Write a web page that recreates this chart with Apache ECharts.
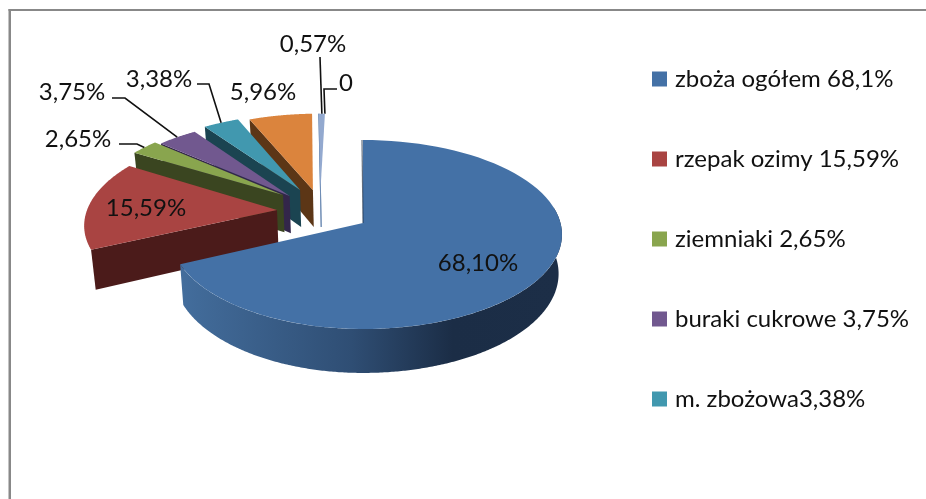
<!DOCTYPE html>
<html>
<head>
<meta charset="utf-8">
<style>html,body{margin:0;padding:0;background:#fff}#chart{width:926px;height:499px}</style>
<script src="https://cdn.jsdelivr.net/npm/echarts@6/dist/echarts.min.js"></script>
</head>
<body>
<div id="chart"></div>
<script>
// Slice data, clockwise from twelve o'clock
const categories = ['zboża ogółem 68,1%', 'rzepak ozimy 15,59%', 'ziemniaki 2,65%', 'buraki cukrowe 3,75%', 'm. zbożowa3,38%', '5,96%', '0,57%', '0'];
const values = [68.1, 15.59, 2.65, 3.75, 3.38, 5.96, 0.57, 0];
const valueLabels = ['68,10%', '15,59%', '2,65%', '3,75%', '3,38%', '5,96%', '0,57%', '0'];
const legendEntries = categories.slice(0, 5);

// Slice colours: top face and dark side face
const topColors = ['#4471a6', '#a94442', '#89a54e', '#71588f', '#4198af', '#db843d', '#93a9cf', '#93a9cf'];
const sideColors = ['#1c2e47', '#4b1b1a', '#3a4520', '#33264a', '#1b4451', '#5c3616', '#6f8db5', '#6f8db5'];

// Pulled-out slice offsets on the pie plane, in pie radii (right, back)
const sliceOffsets = [[0, 0], [-0.443, 0.142], [-0.42, 0.312], [-0.385, 0.3], [-0.333, 0.37], [-0.265, 0.37], [-0.225, 0.37], [-0.225, 0.37]];

// Horizontal squeeze of the near-left quadrant, per slice
const leftSqueeze = [0.968, 0.985, 1, 1, 1, 1, 1, 1];

// Label placement: text centre and optional leader elbow points
const labelLayout = [
  { at: [478, 263] },
  { at: [146, 208] },
  { at: [78, 139], leader: [[119, 144], [137, 144]] },
  { at: [72, 92], leader: [[112, 98], [125, 98]] },
  { at: [159, 79], leader: [[197, 84], [209, 84]] },
  { at: [263, 92] },
  { at: [313, 44], leader: [[320, 57]] },
  { at: [346, 83], leader: [[337, 89], [324, 89]] }
];

// Perspective model of the pie
const view = { cx: 363, cy: 223, rx: 197.5, ry: 93.1, persp: 0.1217, depth: 38.6, baseScale: 0.983 };
const labelFont = '24px Lato';
const total = values.reduce((a, b) => a + b, 0);

function project(u, v, lower, squeeze) {
  const d = 1 + view.persp * v;
  const k = (squeeze && u < 0) ? squeeze : 1;
  let x = view.cx + view.rx * u * k / d;
  let y = view.cy - view.ry * v / d;
  if (lower) {
    x = view.cx + (x - view.cx) * view.baseScale;
    y += view.depth / d;
  }
  return [x, y];
}

function rimPoint(i, deg, lower) {
  const off = sliceOffsets[i];
  const a = deg * Math.PI / 180;
  return project(off[0] + Math.sin(a), off[1] + Math.cos(a), lower, leftSqueeze[i]);
}

function startAngle(i) {
  let s = 0;
  for (let k = 0; k < i; k++) s += values[k];
  return s / total * 360;
}

function renderSlice(i, api) {
  const sweep = api.value(0) / total * 360;
  const start = startAngle(i);
  const end = start + sweep;
  const off = sliceOffsets[i];
  const children = [];

  if (sweep > 0) {
    const apex = project(off[0], off[1], false);
    const apexLow = project(off[0], off[1], true);

    // Outer rim band, only where it faces the viewer
    const bandFrom = Math.max(start, 80);
    const bandTo = Math.min(end, 270);
    if (i === 0 && bandTo > bandFrom) {
      const upper = [], lower = [];
      for (let a = bandFrom; a <= bandTo; a += 0.5) {
        upper.push(rimPoint(i, a, false));
        lower.push(rimPoint(i, a, true));
      }
      upper.push(rimPoint(i, bandTo, false));
      lower.push(rimPoint(i, bandTo, true));
      children.push({
        type: 'polygon',
        shape: { points: upper.concat(lower.reverse()) },
        style: {
          fill: new echarts.graphic.LinearGradient(182, 0, 558, 0, [
            { offset: 0, color: '#436d9c' },
            { offset: 0.45, color: '#2f4e74' },
            { offset: 0.72, color: '#1b2d46' },
            { offset: 1, color: '#1c2e47' }
          ], true)
        }
      });
    }

    // Radial wall along the leading edge of pulled-out slices
    if (i > 0) {
      const wallStyle = { fill: sideColors[i] };
      if (sweep < 3) {
        // A very narrow slice shows its wall almost edge-on
        wallStyle.stroke = sideColors[i];
        wallStyle.lineWidth = 1;
      }
      children.push({
        type: 'polygon',
        shape: { points: [apex, rimPoint(i, start, false), rimPoint(i, start, true), apexLow] },
        style: wallStyle
      });
    }

    // Top face
    const pts = [apex];
    const step = Math.max(sweep / 80, 0.25);
    for (let a = start; a < end; a += step) pts.push(rimPoint(i, a, false));
    pts.push(rimPoint(i, end, false));
    children.push({ type: 'polygon', shape: { points: pts }, style: { fill: topColors[i] } });

    // Thin shaded edge where the large slice begins
    if (i === 0) {
      children.push({
        type: 'line',
        shape: { x1: rimPoint(i, 0)[0] - 1, y1: rimPoint(i, 0)[1], x2: apex[0], y2: apex[1] },
        style: { stroke: sideColors[0], lineWidth: 1.2, opacity: 0.7 }
      });
    }
  }

  // Value label and its leader line to the middle of the rim
  const place = labelLayout[i];
  if (place.leader) {
    const target = rimPoint(i, start + sweep / 2, false);
    children.push({
      type: 'polyline',
      shape: { points: place.leader.concat([target]) },
      style: { stroke: '#111', lineWidth: 1.6, fill: 'none' }
    });
  }
  children.push({
    type: 'text',
    style: {
      text: valueLabels[i], x: place.at[0], y: place.at[1],
      font: labelFont, fill: '#111', align: 'center', verticalAlign: 'middle'
    }
  });
  return { type: 'group', children: children };
}

// Back-to-front paint order so nearer slices cover farther ones
const paintOrder = [7, 6, 5, 4, 3, 2, 1, 0];

const chart = echarts.init(document.getElementById('chart'), null, { renderer: 'canvas' });
chart.setOption({
  animation: false,
  backgroundColor: '#ffffff',
  legend: {
    orient: 'vertical',
    left: 652,
    top: 67,
    padding: 0,
    data: legendEntries,
    icon: 'rect',
    itemWidth: 15,
    itemHeight: 15,
    itemGap: 56,
    selectedMode: false,
    textStyle: { fontFamily: 'Lato', fontSize: 24, color: '#111', padding: [0, 0, 0, 3] }
  },
  graphic: [
    { type: 'rect', shape: { x: 8.5, y: 9, width: 2.5, height: 490 }, style: { fill: '#888888' }, silent: true },
    { type: 'rect', shape: { x: 8.5, y: 9, width: 917.5, height: 2 }, style: { fill: '#888888' }, silent: true }
  ],
  series: paintOrder.map(i => ({
    type: 'custom',
    name: categories[i],
    coordinateSystem: 'none',
    itemStyle: { color: topColors[i] },
    data: [[values[i]]],
    renderItem: (params, api) => renderSlice(i, api)
  }))
});
</script>
</body>
</html>
